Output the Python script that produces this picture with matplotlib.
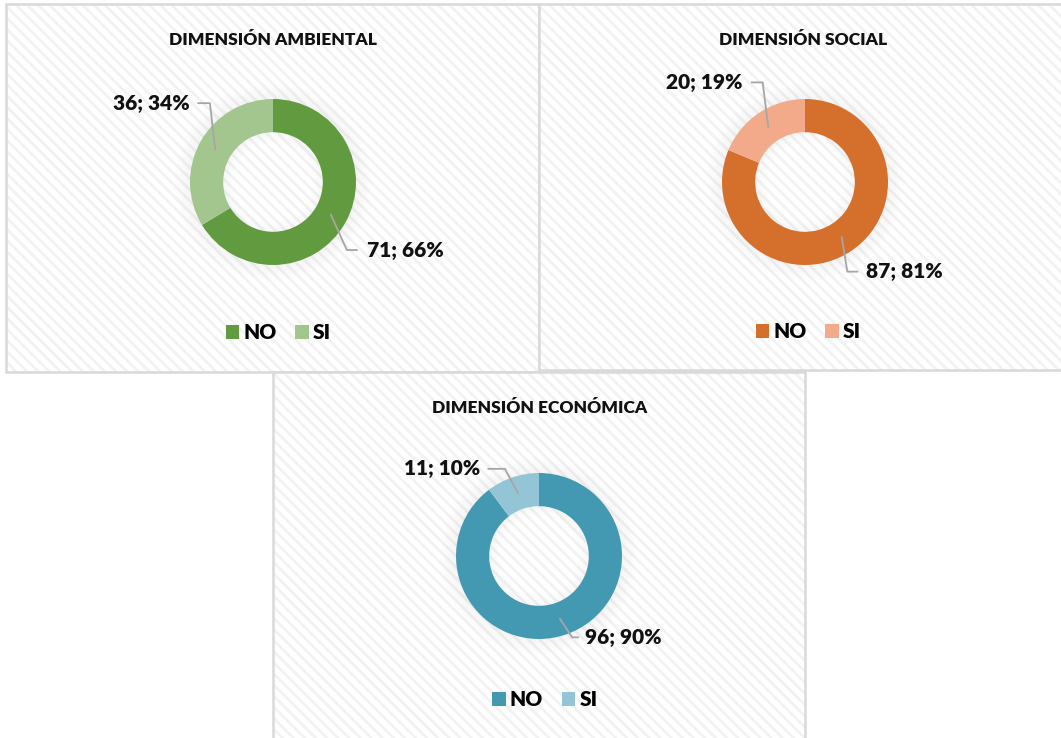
import matplotlib
matplotlib.use('Agg')
import matplotlib.pyplot as plt
from matplotlib.patches import Rectangle, Wedge
import numpy as np

plt.rcParams['font.family'] = ['Lato', 'DejaVu Sans']
plt.rcParams['hatch.linewidth'] = 2.0
plt.rcParams['hatch.color'] = '#f2f2f2'

W, H = 1061, 738

categories = ['NO', 'SI']
titles = ['DIMENSIÓN AMBIENTAL', 'DIMENSIÓN SOCIAL', 'DIMENSIÓN ECONÓMICA']
values_ambiental = [71, 36]
values_social = [87, 20]
values_economica = [96, 11]
pct_ambiental = ['66%', '34%']
pct_social = ['81%', '19%']
pct_economica = ['90%', '10%']

colors = [['#629b3f', '#a3c68f'],
          ['#d4702c', '#f2aa8b'],
          ['#4499b2', '#94c5d7']]

# panel boxes in pixels (x0, y0 top, x1, y1 bottom) and donut centre
panels = [(6, 4, 539, 372), (539, 4, 1066, 370), (273, 372, 805, 742)]
centres = [(273, 182), (805, 182), (539, 556)]
R_PX = 83
# label layout in donut units: (text x, text y, elbow x, elbow y, end x, ha)
label_pos = [
    [(1.13, -0.82, 0.89, -0.82, 1.01, 'left'), (-1.0, 0.95, -0.76, 0.95, -0.9, 'right')],
    [(0.73, -1.08, 0.51, -1.08, 0.63, 'left'), (-0.75, 1.2, -0.51, 1.2, -0.64, 'right')],
    [(0.56, -0.98, 0.40, -0.98, 0.47, 'left'), (-0.71, 1.05, -0.41, 1.05, -0.61, 'right')],
]
legend_y = [333, 332, 700]

fig = plt.figure(figsize=(W / 100, H / 100), dpi=100)

def fx(px):
    return px / W

def fy(py):
    return 1 - py / H

all_values = [values_ambiental, values_social, values_economica]
all_pct = [pct_ambiental, pct_social, pct_economica]

for i in range(3):
    x0, y0, x1, y1 = panels[i]
    bg = fig.add_axes([fx(x0), fy(y1), fx(x1 - x0), (y1 - y0) / H])
    bg.set_xlim(0, 1)
    bg.set_ylim(0, 1)
    bg.axis('off')
    bg.add_patch(Rectangle((0, 0), 1, 1, facecolor='white', edgecolor='#f2f2f2',
                           hatch='\\\\\\', lw=0, transform=bg.transAxes, zorder=0))
    bg.add_patch(Rectangle((0, 0), 1, 1, facecolor='none', edgecolor='#d9d9d9',
                           lw=1.8, transform=bg.transAxes, zorder=1, clip_on=False))
    fig.text(fx((x0 + x1) / 2 + 0.5), fy(y0 + 36), titles[i], ha='center', va='center',
             fontsize=12.5, fontweight='heavy', color='#111111')

    cx, cy = centres[i]
    span = 1.6
    ax = fig.add_axes([fx(cx - R_PX * span), fy(cy + R_PX * span),
                       fx(2 * R_PX * span), 2 * R_PX * span / H])
    ax.axis('off')

    # soft shadow round the ring
    for k in range(12):
        r = 1.0 + 0.016 * (k + 1)
        ax.add_patch(Wedge((0, 0), r, 0, 360, width=0.016, facecolor='#808080',
                           alpha=0.07 * (1 - k / 12), lw=0, zorder=1))
    for k in range(8):
        r = 0.6 - 0.016 * k
        ax.add_patch(Wedge((0, 0), r, 0, 360, width=0.016, facecolor='#808080',
                           alpha=0.05 * (1 - k / 8), lw=0, zorder=1))

    vals = all_values[i]
    wedges, _ = ax.pie(vals, colors=colors[i], startangle=90, counterclock=False,
                       radius=1.0, wedgeprops=dict(width=0.4, linewidth=0),
                       normalize=True)
    for w in wedges:
        w.set_zorder(3)
    ax.set_xlim(-span, span)
    ax.set_ylim(-span, span)
    ax.set_aspect('equal')

    total = sum(vals)
    cum = 0
    for j, v in enumerate(vals):
        mid = 90 - 360 * (cum + v / 2) / total
        cum += v
        px = 0.8 * np.cos(np.radians(mid))
        py = 0.8 * np.sin(np.radians(mid))
        tx, ty, ex, ey, endx, ha = label_pos[i][j]
        ax.plot([px, ex, endx], [py, ey, ey], color='#a6a6a6', lw=1.3, zorder=4,
                clip_on=False)
        ax.text(tx, ty, f'{v}; {all_pct[i][j]}', ha=ha, va='center', fontsize=15,
                fontweight='heavy', color='#111111', zorder=5, clip_on=False)

    # legend
    ly = legend_y[i]
    lx = (x0 + x1) / 2 + 6
    handles = [Rectangle((0, 0), 1, 1, facecolor=c, lw=0) for c in colors[i]]
    fig.legend(handles, categories, loc='center', bbox_to_anchor=(fx(lx), fy(ly)),
               ncol=2, frameon=False, prop=dict(size=15, weight='heavy'),
               handlelength=0.65, handleheight=0.65, handletextpad=0.2,
               columnspacing=0.9)

fig.savefig('out.png', dpi=100)
